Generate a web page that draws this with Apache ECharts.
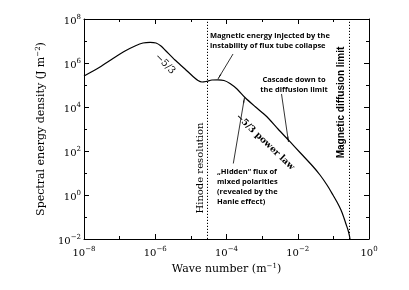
<!DOCTYPE html>
<html>
<head>
<meta charset="utf-8">
<script src="https://cdn.jsdelivr.net/npm/echarts@6/dist/echarts.min.js"></script>
<style>html,body{margin:0;padding:0;background:#fff}#c{width:409px;height:290px}</style>
</head>
<body>
<div id="c"></div>
<script>
// log10 of wave number (m^-1)
const logK = [-8.000,-7.551,-7.186,-6.849,-6.568,-6.344,-6.147,-5.979,-5.839,-5.698,-5.446,-5.165,-4.940,-4.800,-4.688,-4.575,-4.407,-4.239,-4.070,-3.902,-3.705,-3.481,-3.200,-2.872,-2.554,-2.218,-1.937,-1.572,-1.375,-1.179,-1.011,-0.898,-0.786,-0.702,-0.646,-0.589,-0.547,-0.533];
// log10 of spectral energy density (J m^-2)
const logE = [5.409,5.818,6.205,6.545,6.773,6.909,6.941,6.909,6.773,6.545,6.136,5.727,5.386,5.205,5.136,5.159,5.227,5.236,5.205,5.068,4.818,4.432,4.023,3.568,3.000,2.423,1.932,1.295,0.909,0.455,0.000,-0.318,-0.682,-1.045,-1.318,-1.591,-1.864,-2.000];
// vertical reference limits (log10 k): Hinode resolution, magnetic diffusion limit
const limits = [-4.55, -0.56];
// annotation arrows [x1,y1,x2,y2] in log10 units
const arrows = [[-3.817,6.409,-4.239,5.273],[-2.456,4.591,-2.260,2.409],[-3.809,1.432,-3.495,4.432]];
const xTicks = [-8,-6,-4,-2,0];
const yTicks = [-2,0,2,4,6,8];

const serif = 'DejaVu Serif';
function lbl(v){ return '{b|10}{s|' + (v<0 ? '\u2212'+(-v) : String(v)) + '}'; }
const rich = {
  b:{fontFamily:serif,fontSize:10,color:'#000',padding:[5,0,0,0]},
  s:{fontFamily:serif,fontSize:7,color:'#000',padding:[0,0,3,0]}
};
const axLine = {show:true,onZero:false,lineStyle:{color:'#000',width:1}};
function xAx(pos, show){
  return {type:'value',position:pos,min:xTicks[0],max:xTicks[xTicks.length-1],interval:2,
    axisLine:axLine,axisTick:{show:true,inside:true,length:5,lineStyle:{color:'#000'}},
    minorTick:{show:true,splitNumber:2,length:3,lineStyle:{color:'#000'}},
    splitLine:{show:false},minorSplitLine:{show:false},
    axisLabel:{show:show,margin:4,formatter:lbl,rich:rich},
    name: show ? 'Wave number (m{s|\u22121})' : '',
    nameLocation:'middle',nameGap:22,
    nameTextStyle:{fontFamily:serif,fontSize:11,color:'#000',rich:{s:{fontFamily:serif,fontSize:7,color:'#000',padding:[0,0,6,0]}}}};
}
function yAx(pos, show){
  return {type:'value',position:pos,min:yTicks[0],max:yTicks[yTicks.length-1],interval:2,
    axisLine:axLine,axisTick:{show:true,inside:true,length:5,lineStyle:{color:'#000'}},
    minorTick:{show:true,splitNumber:2,length:3,lineStyle:{color:'#000'}},
    splitLine:{show:false},minorSplitLine:{show:false},
    axisLabel:{show:show,margin:3,formatter:lbl,rich:rich},
    name: show ? 'Spectral energy density (J m{s|\u22122})' : '',
    nameLocation:'middle',nameGap:35,nameRotate:90,
    nameTextStyle:{fontFamily:serif,fontSize:11,color:'#000',rich:{s:{fontFamily:serif,fontSize:7,color:'#000',padding:[0,0,6,0]}}}};
}

const chart = echarts.init(document.getElementById('c'), null, {renderer:'canvas'});
chart.setOption({
  animation:false,
  backgroundColor:'#fff',
  grid:{left:84,right:40,top:19,bottom:51},
  xAxis:[xAx('bottom',true), xAx('top',false)],
  yAxis:[yAx('left',true), yAx('right',false)],
  series:[
    {type:'line',data:logK.map((k,i)=>[k,logE[i]]),showSymbol:false,smooth:0.25,
     lineStyle:{color:'#000',width:1.2},
     markLine:{silent:true,symbol:'none',label:{show:false},
       lineStyle:{color:'#000',width:1,type:[1.2,1.8]},
       data:limits.map(v=>({xAxis:v}))}},
    {type:'line',data:[],
     markLine:{silent:true,symbol:['none','arrow'],symbolSize:[1,6],label:{show:false},
       lineStyle:{color:'#000',width:0.8,type:'solid'},
       data:arrows.map(a=>[{coord:[a[0],a[1]]},{coord:[a[2],a[3]]}])}}
  ],
  graphic:[
    {type:'text',x:200.5,y:168,rotation:Math.PI/2,style:{text:'Hinode resolution',font:'10px "DejaVu Serif"',fill:'#000',align:'center',verticalAlign:'middle'}},
    {type:'text',x:341,y:102.5,rotation:Math.PI/2,style:{text:'Magnetic diffusion limit',font:'bold 10px "Liberation Sans"',fill:'#000',align:'center',verticalAlign:'middle'}},
    {type:'text',x:165,y:64,rotation:-Math.PI/4,style:{text:'\u22125/3',font:'10px "DejaVu Serif"',fill:'#000',align:'center',verticalAlign:'middle'}},
    {type:'text',x:265,y:142,rotation:-0.76,style:{text:'\u22125/3 power law',font:'bold 9px "DejaVu Serif"',fill:'#000',align:'center',verticalAlign:'middle'}},
    {type:'text',x:210,y:40.5,style:{text:'Magnetic energy injected by the\ninstability of flux tube collapse',font:'bold 7.5px "Open Sans"',lineHeight:10,fill:'#000',align:'left',verticalAlign:'middle'}},
    {type:'text',x:294,y:85,style:{text:'Cascade down to\nthe diffusion limit',font:'bold 7.5px "Open Sans"',lineHeight:10,fill:'#000',align:'center',verticalAlign:'middle'}},
    {type:'text',x:217,y:187,style:{text:'\u201EHidden\u201C flux of\nmixed polarities\n(revealed by the\nHanle effect)',font:'bold 7.5px "Open Sans"',lineHeight:10,fill:'#000',align:'left',verticalAlign:'middle'}}
  ]
});
</script>
</body>
</html>
